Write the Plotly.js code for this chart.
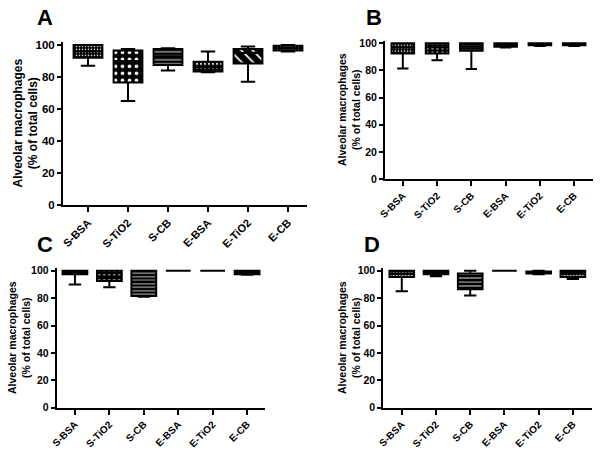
<!DOCTYPE html>
<html>
<head>
<meta charset="utf-8">
<script src="https://cdn.plot.ly/plotly-3.0.1.min.js"></script>
<style>html,body{margin:0;padding:0;background:#fff}#chart{width:600px;height:458px}</style>
</head>
<body>
<div id="chart"></div>
<script>
// Categories (x tick labels)
const categories = ['S-BSA', 'S-TiO2', 'S-CB', 'E-BSA', 'E-TiO2', 'E-CB'];
const yTicks = [0, 20, 40, 60, 80, 100];

// Panel A box statistics
const A_low = [87, 65, 84, 83, 77, 96];
const A_q1  = [92, 76.5, 87.5, 83.5, 88.5, 96.5];
const A_med = [96, 90, 93, 86, 95, 98];
const A_q3  = [100, 96.5, 97.5, 89.5, 97.5, 99.5];
const A_high= [100, 97.5, 98, 96, 99, 100];

// Panel B
const B_low = [81.5, 87.5, 81, 97, 98, 98];
const B_q1  = [92.5, 92.5, 94.5, 97.5, 98.5, 98.5];
const B_med = [97, 97, 97.5, 99, 99.5, 99.5];
const B_q3  = [100, 100, 100, 100, 100, 100];
const B_high= [100, 100, 100, 100, 100, 100];

// Panel C
const C_low = [90, 88, 81, 100, 100, 97];
const C_q1  = [97.5, 92.5, 81.5, 100, 100, 97.5];
const C_med = [99, 96, 92, 100, 100, 99];
const C_q3  = [100, 100, 100, 100, 100, 100];
const C_high= [100, 100, 100, 100, 100, 100];

// Panel D
const D_low = [85, 96, 82, 100, 97.5, 94];
const D_q1  = [95.5, 97.5, 86.5, 100, 98, 95.5];
const D_med = [98, 99, 93, 100, 99, 98.5];
const D_q3  = [100, 100, 98, 100, 99.5, 100];
const D_high= [100, 100, 100, 100, 100, 100];

// Fill patterns per box
const A_pat = ['.', '.', '-', '.', '\\', '.'];
const A_psz = [3, 7, 4, 4, 8, 3];
const B_pat = ['.', '.', '-', '.', '', ''];
const B_psz = [3, 5, 4, 4, 4, 4];
const C_pat = ['.', '.', '-', '', '', '.'];
const C_psz = [3, 5, 3.5, 4, 4, 3];
const D_pat = ['.', '', '-', '', '', '.'];
const D_psz = [3, 4, 4, 4, 4, 3];

const FONT = 'Liberation Sans, Arial, sans-serif';

function panel(suffix, low, q1, med, q3, high, pat, psz, boxw) {
  const xa = 'x' + suffix, ya = 'y' + suffix;
  return [
    {
      type: 'bar', x: categories, base: q1,
      y: q3.map((v, i) => v - q1[i]),
      width: boxw, xaxis: xa, yaxis: ya, showlegend: false, hoverinfo: 'skip',
      marker: {color: '#000', line: {width: 0},
        pattern: {shape: pat, fgcolor: '#fff', bgcolor: '#000', size: psz, solidity: 0.22}}
    },
    {
      type: 'box', x: categories, q1: q1, median: med, q3: q3,
      lowerfence: low, upperfence: high,
      width: boxw, whiskerwidth: 0.5, xaxis: xa, yaxis: ya, showlegend: false,
      fillcolor: 'rgba(0,0,0,0)', line: {color: '#000', width: 2}
    }
  ];
}

const data = [].concat(
  panel('', A_low, A_q1, A_med, A_q3, A_high, A_pat, A_psz, 0.72),
  panel('2', B_low, B_q1, B_med, B_q3, B_high, B_pat, B_psz, 0.66),
  panel('3', C_low, C_q1, C_med, C_q3, C_high, C_pat, C_psz, 0.72),
  panel('4', D_low, D_q1, D_med, D_q3, D_high, D_pat, D_psz, 0.72)
);

function px(v) { return v / 600; }
function py(v) { return 1 - v / 458; }

function yax(anchor, dom, fs) {
  return {
    anchor: anchor, domain: dom, range: [0, 102], tickvals: yTicks,
    showline: true, linecolor: '#000', linewidth: 2,
    ticks: 'outside', ticklen: 4, tickwidth: 2, tickcolor: '#000',
    showgrid: false, zeroline: false,
    tickfont: {family: FONT, size: fs, color: '#000', weight: 'bold'}
  };
}
function xax(anchor, dom, rng, fs) {
  return {
    anchor: anchor, domain: dom, type: 'category', range: rng,
    showline: true, linecolor: '#000', linewidth: 2,
    ticks: 'outside', ticklen: 5, tickwidth: 2, tickcolor: '#000',
    showgrid: false, zeroline: false, tickangle: -45,
    tickfont: {family: FONT, size: fs, color: '#000', weight: 'bold'}
  };
}

const ytitle = 'Alveolar macrophages<br>(% of total cells)';
function ann(text, x, y, size, angle) {
  return {text: text, x: px(x), y: py(y), xref: 'paper', yref: 'paper',
    xanchor: 'center', yanchor: 'middle', showarrow: false, textangle: angle || 0,
    font: {family: FONT, size: size, color: '#000', weight: 'bold'}};
}

const layout = {
  width: 600, height: 458,
  margin: {l: 0, r: 0, t: 0, b: 0},
  paper_bgcolor: '#fff', plot_bgcolor: '#fff',
  showlegend: false,
  xaxis:  xax('y',  [px(63), px(307)],   [-0.625, 5.475], 11),
  yaxis:  yax('x',  [py(205), py(41.8)], 11.5),
  xaxis2: xax('y2', [px(385), px(593)],  [-0.52, 5.55], 10),
  yaxis2: yax('x2', [py(179), py(40.6)], 10.5),
  xaxis3: xax('y3', [px(56.7), px(265)], [-0.53, 5.52], 10),
  yaxis3: yax('x3', [py(407.7), py(268)], 10.5),
  xaxis4: xax('y4', [px(383.3), px(591.7)], [-0.54, 5.55], 10),
  yaxis4: yax('x4', [py(407.7), py(268)], 10.5),
  annotations: [
    ann('A', 45, 17, 22), ann('B', 374, 17, 22),
    ann('C', 45, 244, 22), ann('D', 372, 244, 22),
    ann(ytitle, 25, 123.5, 12, -90),
    ann(ytitle, 349, 110, 10.5, -90),
    ann(ytitle, 19, 338, 10.5, -90),
    ann(ytitle, 349, 338, 10.5, -90)
  ]
};

Plotly.newPlot('chart', data, layout, {staticPlot: true, displayModeBar: false});
</script>
</body>
</html>
